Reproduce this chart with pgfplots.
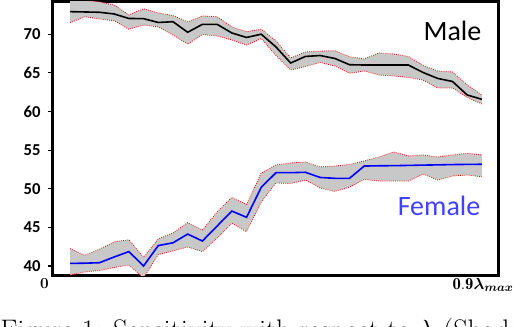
\documentclass[border=0pt]{standalone}
\usepackage{pgfplots}
\pgfplotsset{compat=1.18}
\usepackage{pgfplotstable}
\usepgfplotslibrary{fillbetween}
\usetikzlibrary{calc}
\usepackage{bm}
\usepackage{fontspec}
\newfontfamily\calib{Carlito}

\definecolor{band}{RGB}{200,200,200}
\definecolor{femblue}{RGB}{64,64,255}

% x = sample index, mean / upper / lower
\pgfplotstableread{
i  mean  up    lo
0  72.93 74.40 71.50
1  72.89 74.40 72.28
2  72.85 74.20 71.98
3  72.63 73.80 71.76
4  72.05 72.50 70.65
5  72.02 73.30 71.20
6  71.53 72.76 70.95
7  71.63 72.43 69.91
8  70.26 71.59 68.71
9  71.29 72.37 69.97
10 71.29 72.28 69.78
11 70.17 70.95 69.26
12 69.59 70.34 68.61
13 70.01 70.65 69.46
14 68.36 69.13 67.25
15 66.28 66.93 65.38
16 67.13 67.71 65.83
17 67.25 67.81 66.35
18 66.87 67.88 65.90
19 66.06 67.10 64.95
20 66.02 66.80 65.25
21 66.02 67.58 64.73
22 66.02 67.45 64.60
23 66.02 67.13 64.41
24 65.05 65.96 64.08
25 64.28 65.25 63.05
26 63.89 65.12 63.05
27 62.14 63.44 61.82
28 61.58 62.14 60.98
}\male

\pgfplotstableread{
i  mean  up    lo
0  40.33 42.25 38.83
1  40.36 41.38 39.22
2  40.42 42.16 39.42
3  41.16 43.13 39.80
4  41.86 43.39 40.13
5  40.00 41.12 38.45
6  42.64 43.49 41.49
7  43.00 44.27 41.94
8  44.13 45.61 42.46
9  43.23 44.66 41.85
10 45.17 46.99 43.62
11 47.11 48.87 45.53
12 46.30 47.96 44.44
13 50.18 52.04 48.28
14 52.08 53.08 50.75
15 52.08 53.34 50.68
16 52.13 53.46 51.13
17 51.46 52.82 50.10
18 51.35 52.94 49.65
19 51.35 53.14 50.23
20 52.94 53.59 51.20
21 52.97 54.11 51.00
22 52.99 54.76 51.00
23 53.02 54.24 51.00
24 53.06 54.37 51.91
25 53.09 54.11 51.13
26 53.13 54.37 51.65
27 53.15 54.59 51.78
28 53.17 54.37 51.56
}\female

\begin{document}
\begin{tikzpicture}
\begin{axis}[
  scale only axis, width=333.75pt, height=204.75pt,
  xmin=-1.156, xmax=29.094, ymin=38.83, ymax=74.18,
  xtick=\empty, ytick={40,45,...,70}, ytick pos=left,
  tick align=outside, major tick length=3.75pt,
  axis line style={line width=2.25pt}, tick style={black, line width=0.8pt},
  /pgf/number format/assume math mode=true,
  yticklabel style={font=\calib\bfseries\fontsize{12.5}{14}\selectfont, xshift=-2pt},
]
\addplot[draw=none, name path=mu, forget plot] table[x=i, y=up] {\male};
\addplot[draw=none, name path=ml, forget plot] table[x=i, y=lo] {\male};
\addplot[band, forget plot] fill between[of=mu and ml];
\addplot[draw=none, name path=fu, forget plot] table[x=i, y=up] {\female};
\addplot[draw=none, name path=fl, forget plot] table[x=i, y=lo] {\female};
\addplot[band, forget plot] fill between[of=fu and fl];
\addplot[red, densely dotted, line width=0.6pt] table[x=i, y=up] {\male};
\addplot[red, densely dotted, line width=0.6pt] table[x=i, y=lo] {\male};
\addplot[red, densely dotted, line width=0.6pt] table[x=i, y=up] {\female};
\addplot[red, densely dotted, line width=0.6pt] table[x=i, y=lo] {\female};
\addplot[black, line width=1.2pt] table[x=i, y=mean] {\male};
\addplot[blue, line width=1.2pt] table[x=i, y=mean] {\female};
\coordinate (o) at (rel axis cs:0,0);
\end{axis}
\node[anchor=base east, font=\calib\fontsize{21}{24}\selectfont] at ($(o)+(324.75pt,176.25pt)$) {Male};
\node[anchor=base east, text=femblue, font=\calib\fontsize{21}{24}\selectfont] at ($(o)+(324pt,45pt)$) {Female};
\node[anchor=base, inner sep=0pt, font=\bfseries\fontsize{11.5}{12}\selectfont] at ($(o)+(-6.5pt,-9.75pt)$) {0};
\node[anchor=base east, inner sep=0pt, font=\fontsize{12.5}{14}\selectfont] at ($(o)+(345.75pt,-10.5pt)$) {$\mathbf{0.9}\bm{\lambda}_{\bm{max}}$};
\node[anchor=base west, inner sep=0pt, font=\fontsize{21.2}{25}\selectfont] at ($(o)+(-39.75pt,-48pt)$) {Figure 1: Sensitivity with respect to $\lambda$ (Shaded area};
\pgfresetboundingbox
\path[use as bounding box] ($(o)+(-39.75pt,-38.25pt)$) rectangle ($(o)+(345.75pt,206.25pt)$);
\end{tikzpicture}
\end{document}
